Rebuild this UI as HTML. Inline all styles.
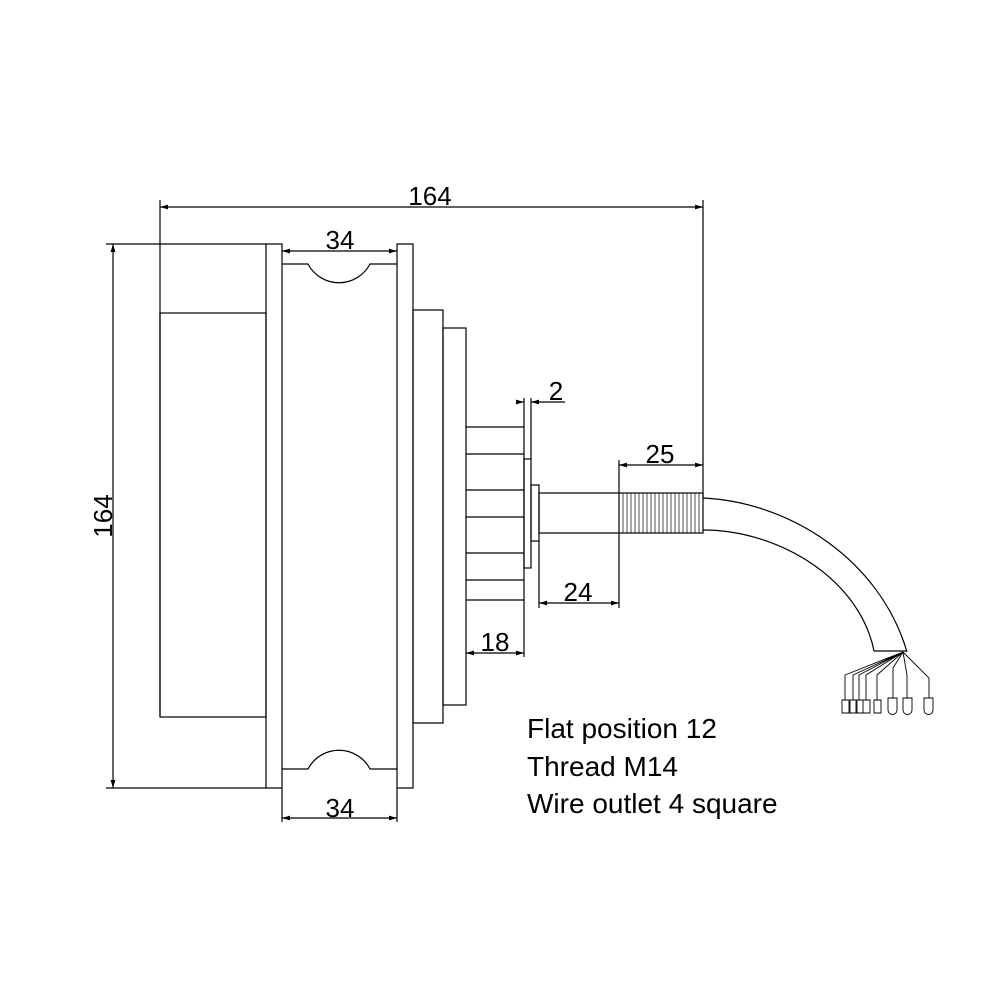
<!DOCTYPE html>
<html><head><style>body{margin:0;background:#fff}svg{display:block}</style></head><body>
<svg width="1000" height="1000" viewBox="0 0 1000 1000" xmlns="http://www.w3.org/2000/svg" font-family="Liberation Sans, sans-serif">
<defs><marker id="a" viewBox="0 0 10 6" refX="10" refY="3" markerWidth="8" markerHeight="4" orient="auto-start-reverse"><path d="M0,0L10,3L0,6z" fill="#000"/></marker></defs>
<g fill="none" stroke="#000" stroke-width="1.2">
<line x1="160" y1="207" x2="703" y2="207" marker-start="url(#a)" marker-end="url(#a)"/>
<line x1="703" y1="200" x2="703" y2="497"/>
<line x1="113" y1="244" x2="113" y2="788" marker-start="url(#a)" marker-end="url(#a)"/>
<line x1="106" y1="244" x2="266" y2="244"/>
<line x1="106" y1="788" x2="266" y2="788"/>
<line x1="160" y1="200" x2="160" y2="717"/>
<rect x="160" y="313" width="106" height="404"/>
<rect x="266" y="244" width="16" height="544"/>
<rect x="397" y="244" width="16" height="544"/>
<path d="M282,264H308A35,35 0 0 0 370,264H397"/>
<path d="M282,769H308A35,35 0 0 1 370,769H397"/>
<line x1="282" y1="251" x2="397" y2="251" marker-start="url(#a)" marker-end="url(#a)"/>
<line x1="282" y1="788" x2="282" y2="822"/><line x1="397" y1="788" x2="397" y2="822"/>
<line x1="282" y1="818" x2="397" y2="818" marker-start="url(#a)" marker-end="url(#a)"/>
<rect x="413" y="310" width="30" height="413"/>
<rect x="443" y="328" width="23" height="377"/>
<path d="M466,427H524M466,454H524M466,490H524M466,517H524M466,553H524M466,580H524M466,600H524"/>
<line x1="524" y1="398" x2="524" y2="657"/>
<line x1="531" y1="398" x2="531" y2="459"/>
<rect x="524" y="459" width="7" height="109"/>
<rect x="531" y="485" width="8" height="56"/>
<rect x="539" y="493" width="164" height="40"/>
<line x1="619" y1="460" x2="619" y2="608"/>
<line x1="539" y1="541" x2="539" y2="608"/>
<line x1="517" y1="402" x2="524" y2="402" marker-end="url(#a)"/>
<line x1="565" y1="402" x2="531" y2="402" marker-end="url(#a)"/>
<line x1="619" y1="465" x2="703" y2="465" marker-start="url(#a)" marker-end="url(#a)"/>
<line x1="539" y1="603" x2="619" y2="603" marker-start="url(#a)" marker-end="url(#a)"/>
<line x1="466" y1="653" x2="524" y2="653" marker-start="url(#a)" marker-end="url(#a)"/>
<path d="M703,498C790,502 880,560 907,652"/>
<path d="M703,530C780,530 860,580 874,651"/>
<line x1="874" y1="651" x2="907" y2="651"/>
<g stroke-width="0.9">
<path d="M903,652L845,675V700M903,652L853,675V700M903,652L859,675V700M903,652L866,675V700M903,652L877,675V700M903,652L893,668V698M903,652L907,675V698M903,652L929,678V698"/>
<path d="M842,700h7v13h-7zM850,700h7v13h-7zM856,700h7v13h-7zM863,700h7v13h-7zM874,700h7v13h-7z"/>
<path d="M888,698v12a4,4 0 0 0 9,0v-12zM903,698v12a4,4 0 0 0 9,0v-12zM924,698v12a4,4 0 0 0 9,0v-12z"/>
</g>
</g>
<g stroke="#000" stroke-width="0.7">
<path d="M623,493V533M627,493V533M631,493V533M635,493V533M639,493V533M643,493V533M647,493V533M651,493V533M655,493V533M659,493V533M663,493V533M667,493V533M671,493V533M675,493V533M679,493V533M683,493V533M687,493V533M691,493V533M695,493V533M699,493V533"/>
</g>
<g font-size="26" fill="#000" text-anchor="middle">
<text x="430" y="205">164</text>
<text x="340" y="249">34</text>
<text x="340" y="817">34</text>
<text x="556" y="400">2</text>
<text x="660" y="463">25</text>
<text x="578" y="601">24</text>
<text x="495" y="651">18</text>
<text transform="translate(112,516) rotate(-90)">164</text>
</g>
<g font-size="28" fill="#000">
<text x="527" y="738">Flat position 12</text>
<text x="527" y="776">Thread M14</text>
<text x="527" y="813">Wire outlet 4 square</text>
</g>
</svg>
</body></html>
